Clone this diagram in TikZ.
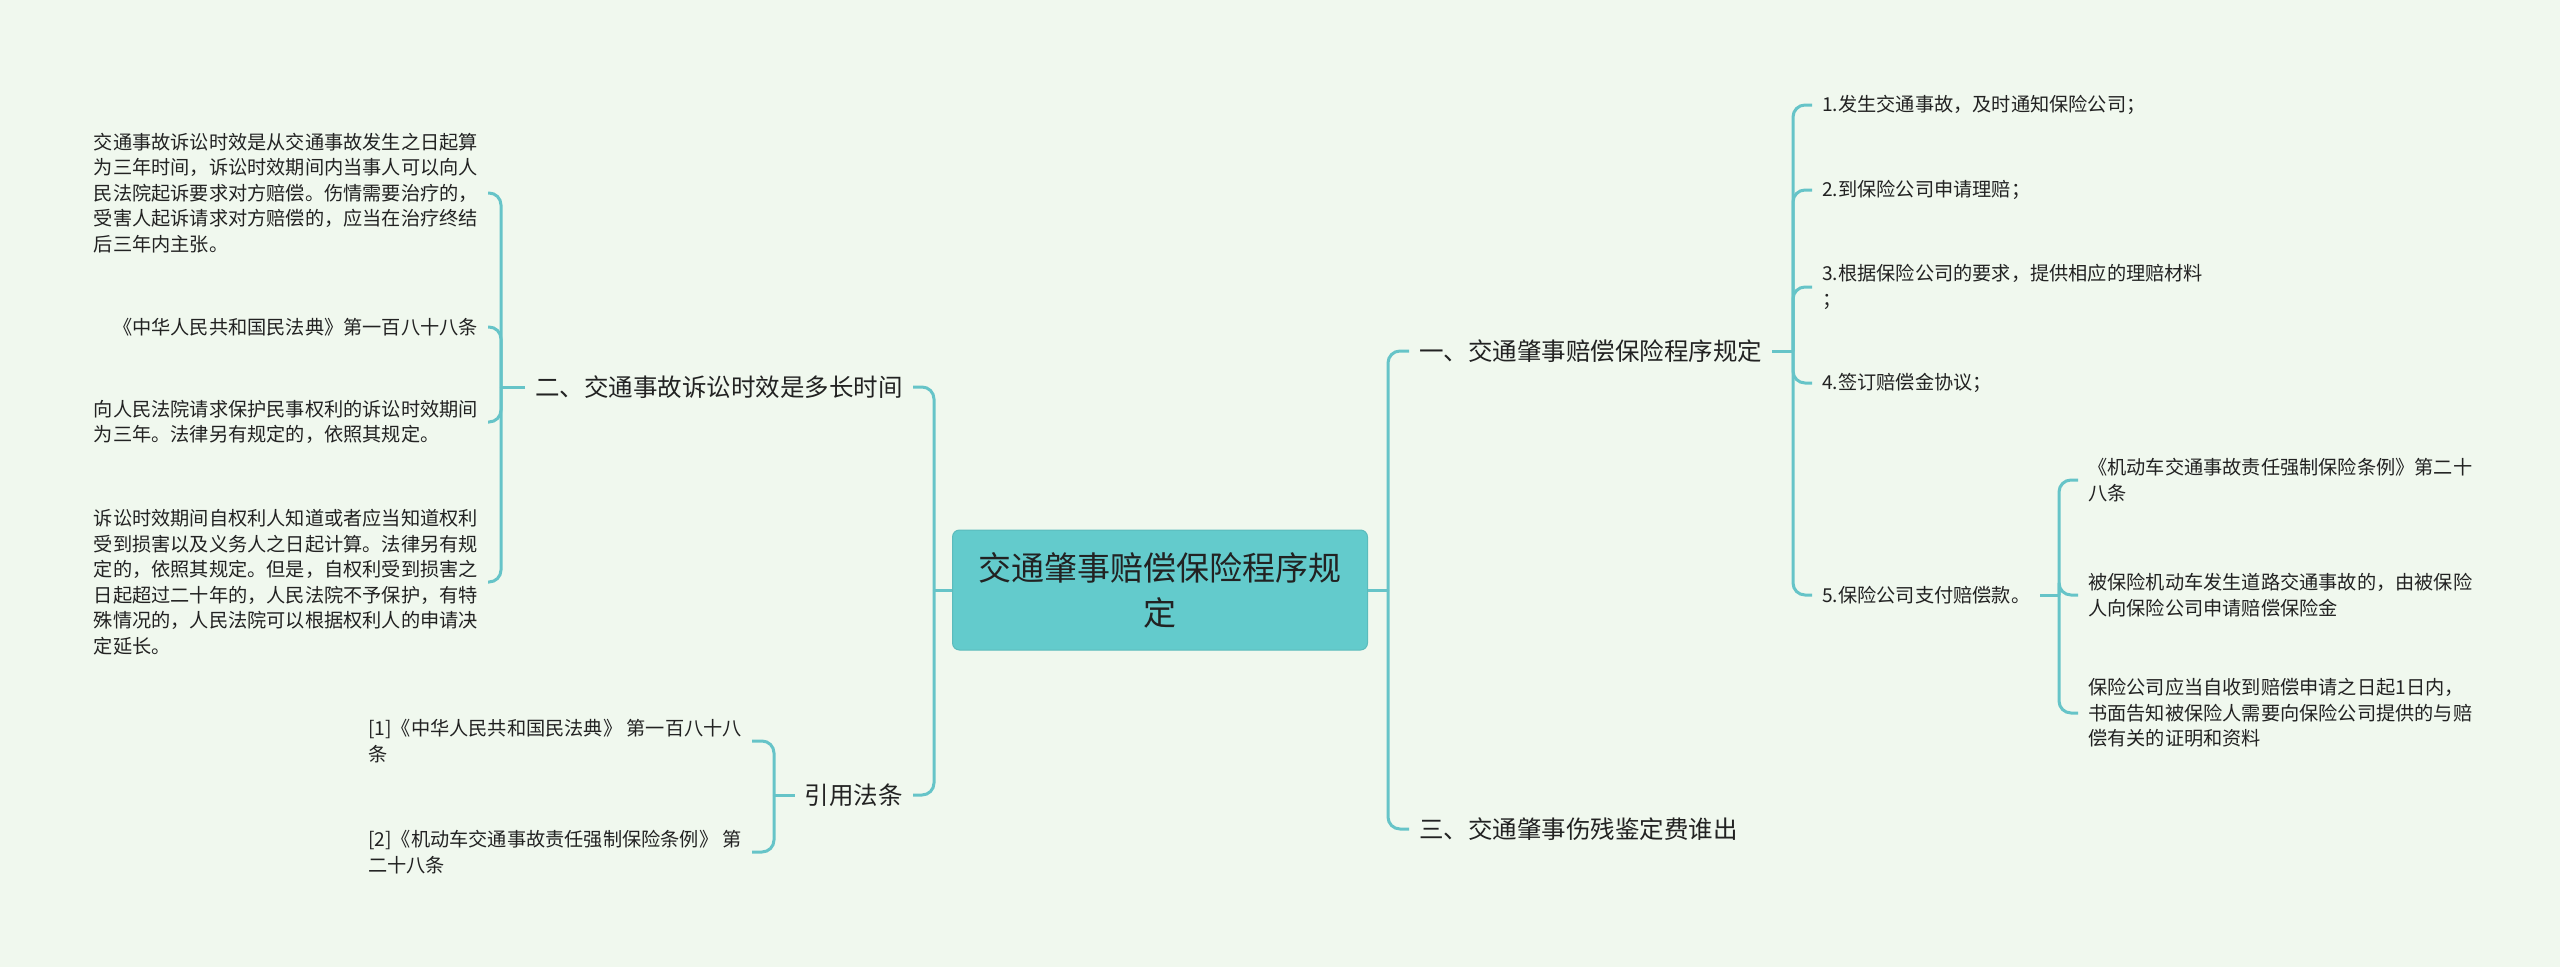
\documentclass[tikz,border=0pt]{standalone}
\usepackage{fontspec}
\setmainfont{Noto Sans CJK SC}
\usepackage{tikz}
\usetikzlibrary{calc, positioning}
\definecolor{bgc}{RGB}{240,248,238}
\definecolor{linec}{RGB}{102,196,200}
\definecolor{rootc}{RGB}{99,203,204}
\definecolor{txt}{RGB}{34,34,34}

\begin{document}
\begin{tikzpicture}[x=1pt, y=-1pt,
  root/.style={fill=rootc, draw=rootc!92!black, line width=1pt, rounded corners=7pt,
    minimum width=415pt, minimum height=120pt, align=center, text=txt,
    font=\fontsize{33}{45}\selectfont},
  branch/.style={text=txt, inner xsep=10pt, inner ysep=4pt, font=\fontsize{24.5}{30}\selectfont},
  leaf/.style={text=txt, align=left, inner xsep=10pt, inner ysep=4pt, font=\fontsize{19.2}{25.5}\selectfont},
  link/.style={draw=linec, line width=3pt, rounded corners=12pt}]
  % background
  \fill[bgc] (0,0) rectangle (2560,967);
  % centre
  \node[root] (root) at (1160,590) {交通肇事赔偿保险程序规\\定};
  % left branches
  \node[branch, anchor=east] (two) at (913,387) {二、交通事故诉讼时效是多长时间};
  \node[branch, anchor=east] (cite) at (913,795) {引用法条};
  \coordinate (lsp) at (934,590);
  \draw[link] (root.west) -- (lsp);
  \draw[link] (lsp) |- (two.east);
  \draw[link] (lsp) |- (cite.east);
  % leaves of two
  \node[leaf, anchor=east] (la1) at (488,193) {交通事故诉讼时效是从交通事故发生之日起算\\为三年时间，诉讼时效期间内当事人可以向人\\民法院起诉要求对方赔偿。伤情需要治疗的，\\受害人起诉请求对方赔偿的，应当在治疗终结\\后三年内主张。};
  \node[leaf, anchor=east] (la2) at (488,327) {《中华人民共和国民法典》第一百八十八条};
  \node[leaf, anchor=east] (la3) at (488,422) {向人民法院请求保护民事权利的诉讼时效期间\\为三年。法律另有规定的，依照其规定。};
  \node[leaf, anchor=east] (la4) at (488,582) {诉讼时效期间自权利人知道或者应当知道权利\\受到损害以及义务人之日起计算。法律另有规\\定的，依照其规定。但是，自权利受到损害之\\日起超过二十年的，人民法院不予保护，有特\\殊情况的，人民法院可以根据权利人的申请决\\定延长。};
  \coordinate (tsp) at (501,387);
  \draw[link] (two.west) -- (tsp);
  \foreach \n in {la1,la2,la3,la4} {\draw[link] (tsp) |- (\n.east);}
  % leaves of cite
  \node[leaf, anchor=east] (rf1) at (752,741) {[1]《中华人民共和国民法典》 第一百八十八\\条};
  \node[leaf, anchor=east] (rf2) at (752,852) {[2]《机动车交通事故责任强制保险条例》 第\\二十八条};
  \coordinate (csp) at (774,795);
  \draw[link] (cite.west) -- (csp);
  \foreach \n in {rf1,rf2} {\draw[link] (csp) |- (\n.east);}
  % right branches
  \node[branch, anchor=west] (one) at (1409,351) {一、交通肇事赔偿保险程序规定};
  \node[branch, anchor=west] (three) at (1409,829) {三、交通肇事伤残鉴定费谁出};
  \coordinate (rsp) at (1388,590);
  \draw[link] (root.east) -- (rsp);
  \draw[link] (rsp) |- (one.west);
  \draw[link] (rsp) |- (three.west);
  % steps of one
  \node[leaf, anchor=west] (st1) at (1812,105) {1.发生交通事故，及时通知保险公司；};
  \node[leaf, anchor=west] (st2) at (1812,190) {2.到保险公司申请理赔；};
  \node[leaf, anchor=west] (st3) at (1812,287) {3.根据保险公司的要求，提供相应的理赔材料\\；};
  \node[leaf, anchor=west] (st4) at (1812,383) {4.签订赔偿金协议；};
  \node[leaf, anchor=west] (st5) at (1812,595) {5.保险公司支付赔偿款。};
  \coordinate (osp) at (1793,351);
  \draw[link] (one.east) -- (osp);
  \foreach \n in {st1,st2,st3,st4,st5} {\draw[link] (osp) |- (\n.west);}
  % leaves of step 5
  \node[leaf, anchor=west] (pa1) at (2078,480) {《机动车交通事故责任强制保险条例》第二十\\八条};
  \node[leaf, anchor=west] (pa2) at (2078,595) {被保险机动车发生道路交通事故的，由被保险\\人向保险公司申请赔偿保险金};
  \node[leaf, anchor=west] (pa3) at (2078,713) {保险公司应当自收到赔偿申请之日起1日内，\\书面告知被保险人需要向保险公司提供的与赔\\偿有关的证明和资料};
  \coordinate (fsp) at (2059,595);
  \draw[link] (st5.east) -- (fsp);
  \foreach \n in {pa1,pa2,pa3} {\draw[link] (fsp) |- (\n.west);}
\end{tikzpicture}
\end{document}
